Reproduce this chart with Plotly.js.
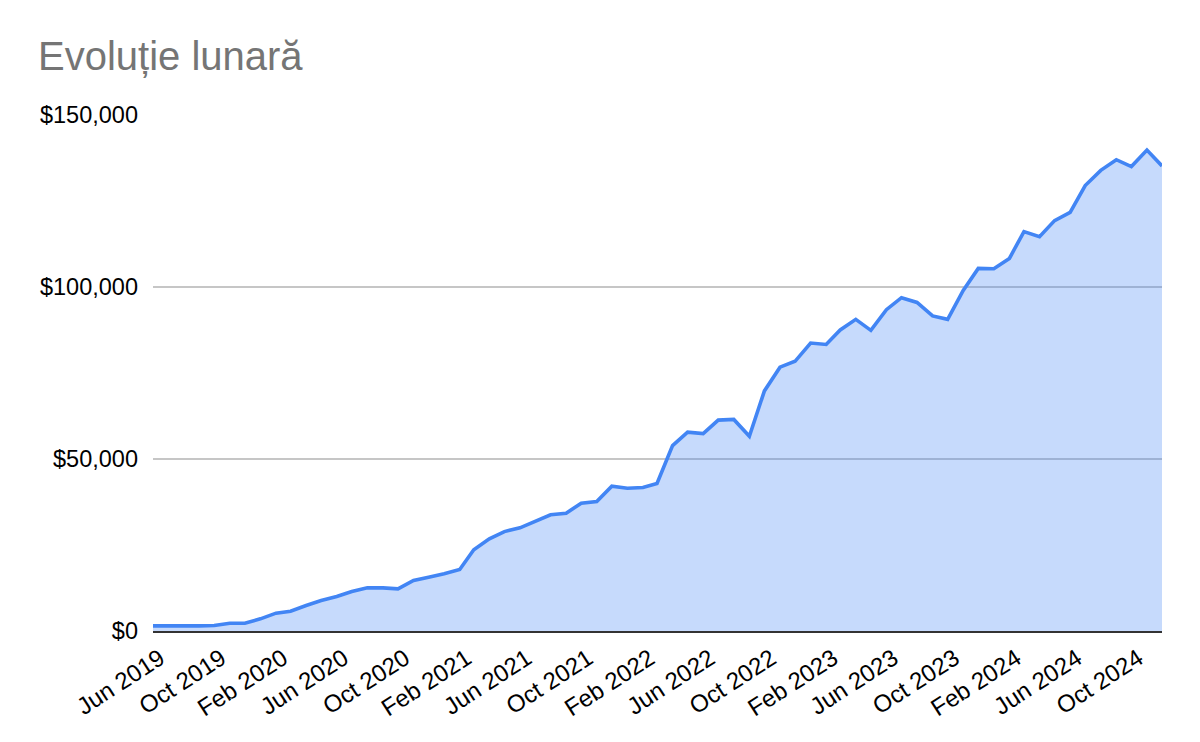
<!DOCTYPE html>
<html>
<head>
<meta charset="utf-8">
<script src="https://cdn.plot.ly/plotly-3.0.1.min.js"></script>
<style>
  html, body { margin: 0; padding: 0; background: #ffffff; }
  #chart { width: 1200px; height: 742px; }
</style>
</head>
<body>
<div id="chart"></div>
<script>
    "use strict";

    // one point per month, Jun 2019 .. Dec 2024
    var months = [
        '2019-06-01', '2019-07-01', '2019-08-01', '2019-09-01', '2019-10-01', '2019-11-01', '2019-12-01',
        '2020-01-01', '2020-02-01', '2020-03-01', '2020-04-01', '2020-05-01', '2020-06-01',
        '2020-07-01', '2020-08-01', '2020-09-01', '2020-10-01', '2020-11-01', '2020-12-01',
        '2021-01-01', '2021-02-01', '2021-03-01', '2021-04-01', '2021-05-01', '2021-06-01',
        '2021-07-01', '2021-08-01', '2021-09-01', '2021-10-01', '2021-11-01', '2021-12-01',
        '2022-01-01', '2022-02-01', '2022-03-01', '2022-04-01', '2022-05-01', '2022-06-01',
        '2022-07-01', '2022-08-01', '2022-09-01', '2022-10-01', '2022-11-01', '2022-12-01',
        '2023-01-01', '2023-02-01', '2023-03-01', '2023-04-01', '2023-05-01', '2023-06-01',
        '2023-07-01', '2023-08-01', '2023-09-01', '2023-10-01', '2023-11-01', '2023-12-01',
        '2024-01-01', '2024-02-01', '2024-03-01', '2024-04-01', '2024-05-01', '2024-06-01',
        '2024-07-01', '2024-08-01', '2024-09-01', '2024-10-01', '2024-11-01', '2024-12-01'
    ];

    var values = [
        1500, 1500, 1300, 1500, 1600, 2270, 2270,
        3540, 5180, 5760, 7400, 8870, 10030, 11480, 12550, 12550, 12260, 14680, 15650,
        16620, 17880, 23600, 26800, 28900, 30000, 31800, 33770, 34250, 37160, 37650, 42100,
        41500, 41700, 42900, 53900, 57800, 57400, 61300, 61500, 56600, 69800, 76700, 78400,
        83700, 83300, 87500, 90600, 87400, 93400, 96900, 95500, 91600, 90600, 99000, 105400,
        105300, 108300, 116100, 114600, 119300, 121700, 129500, 133900, 137000, 135000, 139800, 135200
    ];

    var yTicks = [0, 50000, 100000, 150000];
    var yTickText = ['$0', '$50,000', '$100,000', '$150,000'];

    var font = 'Liberation Sans, Arial, sans-serif';

    var trace = {
        x: months,
        y: values,
        type: 'scatter',
        mode: 'lines',
        fill: 'tozeroy',
        fillcolor: 'rgba(66, 133, 244, 0.3)',
        line: {
            color: '#4285f4',
            width: 3.6,
            shape: 'linear'
        },
        hoverinfo: 'x+y'
    };

    var layout = {
        width: 1200,
        height: 742,
        paper_bgcolor: '#ffffff',
        plot_bgcolor: '#ffffff',
        showlegend: false,
        margin: { l: 153, r: 38, t: 115, b: 111, pad: 0 },
        font: { family: font, size: 22, color: '#000000' },
        title: {
            text: 'Evoluție lunară',
            font: { family: font, size: 40, color: '#757575' },
            xref: 'container',
            yref: 'container',
            x: 38 / 1200,
            xanchor: 'left',
            y: 1 - 56 / 742,
            yanchor: 'middle'
        },
        xaxis: {
            type: 'date',
            range: [months[0], months[months.length - 1]],
            tick0: months[0],
            dtick: 'M4',
            tickformat: '%b %Y',
            tickangle: -33,
            ticks: '',
            ticklabelshift: 7,
            ticklabelstandoff: 2,
            showgrid: false,
            zeroline: false,
            showline: true,
            linecolor: '#333333',
            linewidth: 2,
            tickfont: { family: font, size: 24, color: '#000000' },
            fixedrange: true
        },
        yaxis: {
            range: [0, 150000],
            tickvals: yTicks,
            ticktext: yTickText,
            ticks: '',
            ticklabelstandoff: 14,
            showgrid: true,
            gridcolor: '#c6c6c6',
            gridwidth: 1.5,
            zeroline: false,
            showline: false,
            tickfont: { family: font, size: 23.5, color: '#000000' },
            fixedrange: true
        }
    };

    Plotly.newPlot('chart', [trace], layout, { displayModeBar: false, staticPlot: true });
</script>
</body>
</html>
